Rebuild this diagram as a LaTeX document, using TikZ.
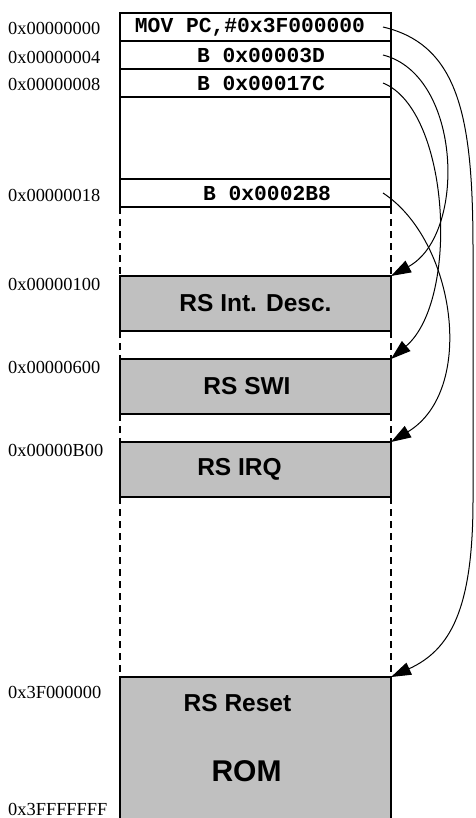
\documentclass[tikz,border=0pt]{standalone}
\usepackage{fontspec}
\setmainfont{Liberation Serif}
\setsansfont{Liberation Sans}
\setmonofont{Liberation Mono}
\usetikzlibrary{arrows.meta, positioning}
\definecolor{cBlock}{RGB}{192,192,192}
\tikzset{
  memrow/.style={rectangle, draw=black, line width=1.1pt, outer sep=0pt,
                 inner sep=0pt, minimum width=271pt, minimum height=28pt,
                 font=\fontsize{21.3}{24}\selectfont\ttfamily\bfseries},
  memgap/.style={memrow, minimum height=82pt},
  memblock/.style={memrow, fill=cBlock, minimum height=55pt,
                   font=\fontsize{24.5}{28}\selectfont\sffamily\bfseries},
  romtext/.style={inner sep=0pt, font=\fontsize{24.5}{28}\selectfont\sffamily\bfseries},
  romname/.style={inner sep=0pt, font=\fontsize{30}{34}\selectfont\sffamily\bfseries},
  addr/.style={anchor=west, inner sep=0pt, font=\fontsize{18.4}{20}\selectfont},
  sideline/.style={line width=1.1pt, dash pattern=on 7pt off 5pt},
  vecarrow/.style={-{Triangle[length=20pt 0 0,width=13pt 0 0]}, line width=1pt}
}

\begin{document}
\begin{tikzpicture}[x=1pt, y=-1pt]
  \useasboundingbox (0,0) rectangle (475,818);

  % ── Vector table ──
  \node[memrow] (row0) at (255.5,27) {MOV PC,\#0x3F000000\hspace*{11pt}};
  \node[memrow, below=0pt of row0] (row1) {\hspace*{11pt}B 0x00003D};
  \node[memrow, below=0pt of row1] (row2) {\hspace*{11pt}B 0x00017C};
  \node[memgap, below=0pt of row2] (gap) {};
  \node[memrow, below=0pt of gap] (row18) {\hspace*{23pt}B 0x0002B8};

  % ── Handlers ──
  \node[memblock, below=69pt of row18] (intdesc) {RS Int. Desc.};
  \node[memblock, below=28pt of intdesc] (swi) {RS SWI\hspace*{17pt}};
  \node[memblock, below=28pt of swi] (irq) {RS IRQ\hspace*{32pt}};
  \node[memblock, minimum height=145pt, below=180pt of irq] (rom) {};
  \node[romtext] (reset) at ([xshift=-18pt,yshift=-26pt]rom.north) {RS Reset};
  \node[romname] (romlabel) at ([xshift=-9pt,yshift=-94pt]rom.north) {ROM};

  % ── Addresses ──
  \node[addr] (a0) at (8,28) {0x00000000};
  \node[addr] (a4) at (8,57) {0x00000004};
  \node[addr] (a8) at (8,84) {0x00000008};
  \node[addr] (a18) at (8,195) {0x00000018};
  \node[addr] (a100) at (8,284) {0x00000100};
  \node[addr] (a600) at (8,367) {0x00000600};
  \node[addr] (ab00) at (8,450) {0x00000B00};
  \node[addr] (a3f) at (8,692) {0x3F000000};
  \node[addr] (a3fff) at (8,809) {0x3FFFFFFF};

  % ── Unused space ──
  \draw[sideline] (row18.south west) -- (intdesc.north west) (row18.south east) -- (intdesc.north east);
  \draw[sideline] (intdesc.south west) -- (swi.north west) (intdesc.south east) -- (swi.north east);
  \draw[sideline] (swi.south west) -- (irq.north west) (swi.south east) -- (irq.north east);
  \draw[sideline] (irq.south west) -- (rom.north west) (irq.south east) -- (rom.north east);

  % ── Branches ──
  \draw[vecarrow] ([xshift=-8pt]row0.east) .. controls (460,45) and (473,120) .. (473,250)
      -- (473,500) .. controls (473,610) and (450,650) .. (rom.north east);
  \draw[vecarrow] ([xshift=-8pt]row1.east) .. controls (462,75) and (467,235) .. (intdesc.north east);
  \draw[vecarrow] ([xshift=-8pt]row2.east) .. controls (450,110) and (460,300) .. (swi.north east);
  \draw[vecarrow] ([xshift=-8pt]row18.east) .. controls (455,240) and (477,390) .. (irq.north east);

\end{tikzpicture}
\end{document}
